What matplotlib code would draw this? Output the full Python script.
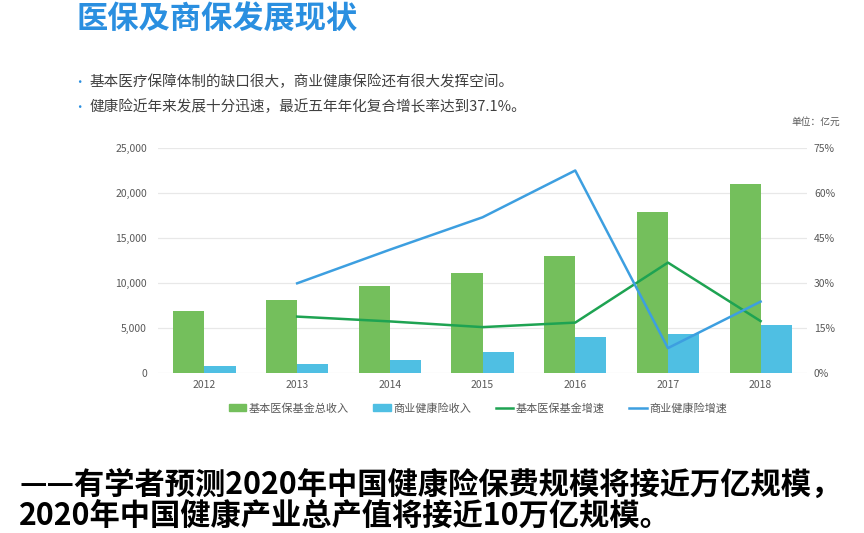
import matplotlib.pyplot as plt
import numpy as np
from matplotlib.patches import Patch
from matplotlib.lines import Line2D

plt.rcParams['font.family'] = ['Noto Sans CJK SC', 'DejaVu Sans']

# 数据（单位：亿元 / %）
years = ['2012', '2013', '2014', '2015', '2016', '2017', '2018']
jiben_shouru = [6900, 8200, 9650, 11150, 13050, 17900, 21050]
shangye_shouru = [780, 1050, 1520, 2330, 4000, 4330, 5400]
jiben_zengsu = [np.nan, 18.9, 17.3, 15.4, 16.9, 36.9, 17.4]
shangye_zengsu = [np.nan, 30.0, 41.2, 52.0, 67.6, 8.4, 23.9]

c_green = '#74bf5c'
c_blue = '#4fbfe3'
c_gline = '#1ea352'
c_bline = '#3d9fe0'
c_text = '#595959'

fig = plt.figure(figsize=(8.64, 5.33), dpi=100)
ax = fig.add_axes([0.183, 0.2996, 0.751, 0.4222])
ax2 = ax.twinx()

x = np.arange(len(years))
w = 0.335
ax.bar(x - w / 2, jiben_shouru, width=w, color=c_green, zorder=2)
ax.bar(x + w / 2, shangye_shouru, width=w, color=c_blue, zorder=2)
ax2.plot(x, jiben_zengsu, color=c_gline, lw=1.8)
ax2.plot(x, shangye_zengsu, color=c_bline, lw=1.8)

ax.set_xlim(-0.5, 6.5)
ax.set_ylim(0, 25000)
ax.set_yticks(np.arange(0, 25001, 5000))
ax.set_yticklabels([f'{v:,}' for v in range(0, 25001, 5000)])
ax2.set_ylim(0, 75)
ax2.set_yticks(np.arange(0, 76, 15))
ax2.set_yticklabels([f'{v}%' for v in range(0, 76, 15)])
ax.set_xticks(x)
ax.set_xticklabels(years)
ax.grid(axis='y', color='#e8e8e8', lw=0.9, zorder=0)
for a in (ax, ax2):
    for s in a.spines.values():
        s.set_visible(False)
    a.tick_params(length=0, labelsize=7.5, labelcolor=c_text)
ax.tick_params(axis='y', pad=8)
ax2.tick_params(axis='y', pad=5)
ax.tick_params(axis='x', pad=5)

handles = [Patch(color=c_green), Patch(color=c_blue),
           Line2D([], [], color=c_gline, lw=1.8), Line2D([], [], color=c_bline, lw=1.8)]
labels = ['基本医保基金总收入', '商业健康险收入', '基本医保基金增速', '商业健康险增速']
fig.legend(handles, labels, loc='center', bbox_to_anchor=(0.553, 0.234), ncol=4,
           frameon=False, fontsize=8, labelcolor=c_text, handlelength=1.6,
           handleheight=0.6, handletextpad=0.2, columnspacing=2.2)

# 标题与说明
fig.text(0.088, 0.962, '医保及商保发展现状', fontsize=22.5, color='#2a8fe0',
         fontweight='bold', va='center')
bullets = ['基本医疗保障体制的缺口很大，商业健康保险还有很大发挥空间。',
           '健康险近年来发展十分迅速，最近五年年化复合增长率达到37.1%。']
for i, t in enumerate(bullets):
    y = 0.846 - i * 0.047
    fig.text(0.085, y, '•', fontsize=9, color='#2a8fe0', va='center')
    fig.text(0.104, y, t, fontsize=10.5, color='#404040', va='center')
fig.text(0.973, 0.772, '单位：亿元', fontsize=7, color=c_text, ha='right', va='center')

fig.text(0.022, 0.09, '——有学者预测2020年中国健康险保费规模将接近万亿规模，',
         fontsize=21.8, fontweight='bold', color='black', va='center')
fig.text(0.022, 0.03, '2020年中国健康产业总产值将接近10万亿规模。',
         fontsize=21.8, fontweight='bold', color='black', va='center')

fig.savefig('out.png', dpi=100)
